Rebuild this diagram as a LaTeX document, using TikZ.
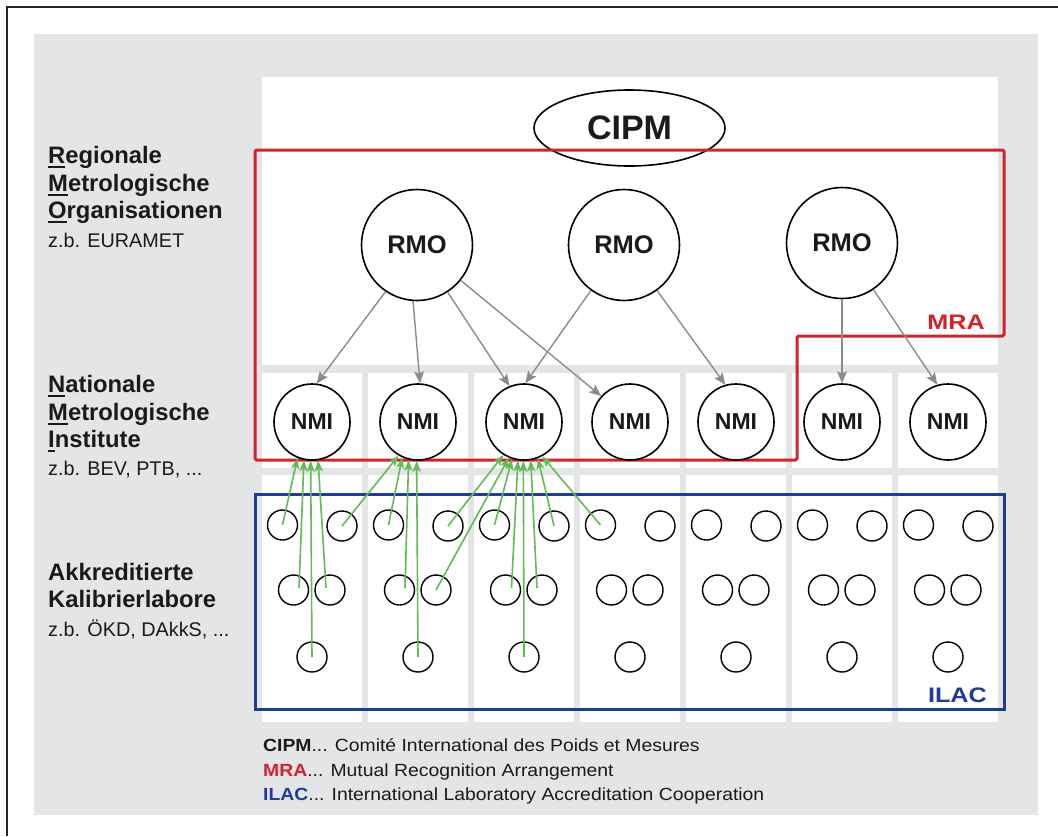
\documentclass[tikz,border=0pt]{standalone}
\usepackage{fontspec}
\setmainfont{Liberation Sans}
\newfontfamily\wideb[FakeStretch=1.2]{Liberation Sans}
\newfontfamily\legf[FakeStretch=1.1]{Liberation Sans}
\usetikzlibrary{arrows.meta,calc,shapes.geometric}
\definecolor{bggray}{HTML}{E4E5E7}
\definecolor{redc}{HTML}{D2232A}
\definecolor{bluec}{HTML}{1F3C96}
\definecolor{greenc}{HTML}{62BB55}
\definecolor{arrgray}{HTML}{8C8C8C}
\definecolor{textc}{HTML}{1A1A1A}
\newcommand\ulx[1]{\setbox0\hbox{#1}\rlap{\rule[-5pt]{\wd0}{2.4pt}}\box0}
\begin{document}
\begin{tikzpicture}[x=1pt,y=-1pt,
  rmo/.style={circle,draw,line width=1.6,fill=white,minimum size=111,inner sep=0,text=textc,font=\bfseries\fontsize{25.5}{25.5}\selectfont},
  nmi/.style={circle,draw,line width=1.6,fill=white,minimum size=76,inner sep=0,text=textc,font=\bfseries\fontsize{23}{23}\selectfont},
  lab/.style={circle,draw,line width=1.4,minimum size=30,inner sep=0},
  garr/.style={draw=arrgray,line width=1.4,-{Stealth[length=12pt,width=10pt,inset=2.5pt]}},
  grn/.style={draw=greenc,line width=1.6,-{Stealth[length=11pt,width=8pt,inset=2.5pt]}},
  lbl/.style={anchor=base west,inner sep=0,text=textc,font=\bfseries\fontsize{23.8}{23.8}\selectfont},
  sublbl/.style={anchor=base west,inner sep=0,text=textc,font=\fontsize{19.8}{19.8}\selectfont},
  leg/.style={anchor=base west,inner sep=0,text=textc,font=\legf\fontsize{17.6}{17.6}\selectfont}]
\useasboundingbox (0,0) rectangle (1058,836);
\fill[white] (0,0) rectangle (1058,836);
\draw[line width=2,black!85] (6.5,836) -- (6.5,6.5) -- (1058,6.5);
% background
\fill[bggray] (34,34) rectangle (1038,815);
\fill[white] (262,77) rectangle (998,365);
\foreach \i in {0,...,6} {
  \fill[white] ({262+106*\i},373) rectangle ++(100,95);
  \fill[white] ({262+106*\i},475) rectangle ++(100,247);
}
% CIPM
\node[ellipse,draw,line width=1.6,minimum width=191,minimum height=76,inner sep=0,text=textc,font=\bfseries\fontsize{34}{34}\selectfont] (cipm) at (629.5,128) {CIPM};
% MRA and ILAC frames
\draw[redc,line width=3,rounded corners=1.5] (255,150) -- (1004,150) -- (1004,336) -- (797,336) -- (797,460) -- (255,460) -- cycle;
\node[anchor=base east,inner sep=0,text=redc,font=\wideb\bfseries\fontsize{21}{21}\selectfont] (mra) at (985,329) {MRA};
\draw[bluec,line width=3] (255,494) rectangle (1004,709);
\node[anchor=base east,inner sep=0,text=bluec,font=\wideb\bfseries\fontsize{21}{21}\selectfont] (ilac) at (987,702) {ILAC};
% RMO
\node[rmo] (rmo1) at (417,245) {RMO};
\node[rmo] (rmo2) at (624,245) {RMO};
\node[rmo] (rmo3) at (842,243) {RMO};
% NMI
\foreach \i in {1,...,7} {
  \node[nmi] (nmi\i) at ({312+106*(\i-1)},422) {NMI};
}
% labs
\foreach \i in {1,...,7} {
  \pgfmathsetmacro\cx{312+106*(\i-1)}
  \node[lab] (a\i) at (\cx-29.5,525) {};
  \node[lab] (b\i) at (\cx+30,526) {};
  \node[lab] (m\i) at (\cx-18.5,590) {};
  \node[lab] (n\i) at (\cx+18,590) {};
  \node[lab] (d\i) at (\cx,657) {};
}
% RMO -> NMI
\draw[garr] (rmo1.236) -- (nmi1.83);
\draw[garr] (rmo1.266) -- (nmi2.87);
\draw[garr] (rmo1.303) -- (nmi3.112);
\draw[garr] (rmo1.321) -- (nmi4.138);
\draw[garr] (rmo2.234) -- (nmi3.88);
\draw[garr] (rmo2.306) -- (nmi5.106);
\draw[garr] (rmo3.270) -- (nmi6.90);
\draw[garr] (rmo3.304) -- (nmi7.106);
% labs -> NMI
\draw[grn] (a1.center) -- (nmi1.248);
\draw[grn] ($(m1.center)+(5.5,-2)$) -- (nmi1.258);
\draw[grn] (d1.center) -- (nmi1.268);
\draw[grn] ($(n1.center)+(-4,-2)$) -- (nmi1.279);
\draw[grn] (b1.center) -- (nmi2.240);
\draw[grn] (a2.center) -- (nmi2.246);
\draw[grn] ($(m2.center)+(5.5,-2)$) -- (nmi2.256);
\draw[grn] (d2.center) -- (nmi2.268);
\draw[grn] (b2.center) -- (nmi3.238);
\draw[grn] (n2.center) -- (nmi3.247);
\draw[grn] (a3.center) -- (nmi3.252);
\draw[grn] ($(m3.center)+(6,-2)$) -- (nmi3.261);
\draw[grn] (d3.center) -- (nmi3.269);
\draw[grn] ($(n3.center)+(-5,-2)$) -- (nmi3.280);
\draw[grn] (b3.center) -- (nmi3.291);
\draw[grn] (a4.center) -- (nmi3.298);
% left labels
\node[lbl] (r1) at (48,163) {\ulx{R}egionale};
\node[lbl] (r2) at (48,191) {\ulx{M}etrologische};
\node[lbl] (r3) at (48,218) {\ulx{O}rganisationen};
\node[sublbl] (r4) at (48,247) {z.b. EURAMET};
\node[lbl] (s1) at (48,392) {\ulx{N}ationale};
\node[lbl] (s2) at (48,420) {\ulx{M}etrologische};
\node[lbl] (s3) at (48,447) {\ulx{I}nstitute};
\node[sublbl] (s4) at (48,475) {z.b. BEV, PTB, ...};
\node[lbl] (k1) at (48,580) {Akkreditierte};
\node[lbl] (k2) at (48,607) {Kalibrierlabore};
\node[sublbl] (k3) at (48,636) {z.b. ÖKD, DAkkS, ...};
% legend
\node[leg] (g1) at (263,751) {\textbf{CIPM}... Comité International des Poids et Mesures};
\node[leg] (g2) at (263,776) {\textcolor{redc}{\textbf{MRA}}... Mutual Recognition Arrangement};
\node[leg] (g3) at (263,800) {\textcolor{bluec}{\textbf{ILAC}}... International Laboratory Accreditation Cooperation};
\end{tikzpicture}
\end{document}
